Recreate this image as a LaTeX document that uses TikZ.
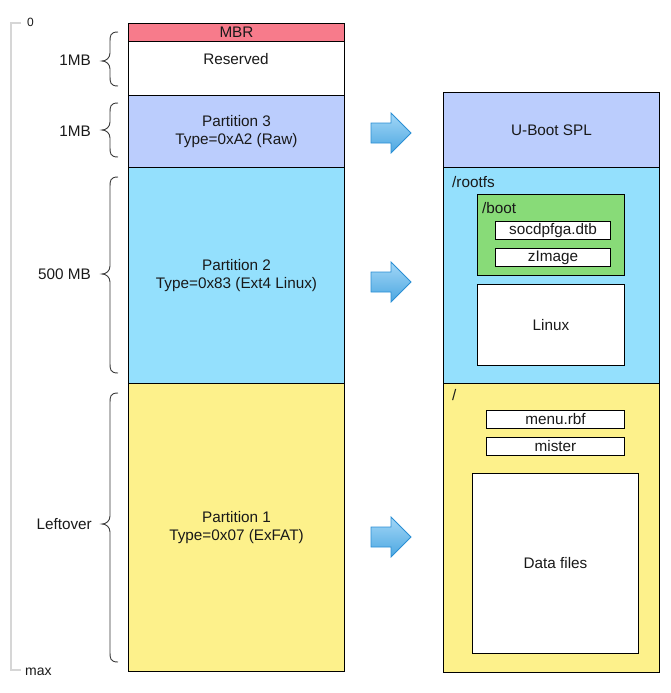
\documentclass[tikz,border=0pt]{standalone}
\usepackage{fontspec}
\setmainfont{Liberation Sans}
\definecolor{mbrc}{HTML}{F77B8B}
\definecolor{p3c}{HTML}{BBCDFD}
\definecolor{p2c}{HTML}{94E0FD}
\definecolor{p1c}{HTML}{FDF18B}
\definecolor{bootc}{HTML}{88DB78}
\definecolor{arrtop}{HTML}{A3D7F7}
\definecolor{arrbot}{HTML}{4CA7E1}
\definecolor{arrdraw}{HTML}{2A8FD4}
\definecolor{scalec}{HTML}{D6D6D6}
\definecolor{bracec}{HTML}{3A3A3A}
\newcommand{\curlyb}[3]{% top, tip, bottom
  \draw[bracestyle] (118,#1) .. controls (110,#1) and (110,#1+4) .. (110,#1+10)
    -- (110,#2-8) .. controls (110,#2-3) and (106,#2) .. (102,#2)
    .. controls (106,#2) and (110,#2+3) .. (110,#2+8)
    -- (110,#3-10) .. controls (110,#3-4) and (110,#3) .. (118,#3);}
\begin{document}
\begin{tikzpicture}[x=1pt,y=-1pt,
  every node/.style={font=\fontsize{15.3}{18.3}\selectfont, text=black!90},
  blk/.style={draw=black, line width=1pt, anchor=north west, inner sep=0pt, align=center},
  txt/.style={inner sep=0pt, align=center},
  bracestyle/.style={draw=bracec, line width=0.9pt},
  blockarrow/.style={draw=arrdraw, line width=0.8pt, top color=arrtop, bottom color=arrbot, line join=miter}]
\useasboundingbox (0,0) rectangle (670,693);
% scale
\draw[scalec, line width=1.5pt] (21,23) -- (11,23) -- (11,670) -- (21,670);
\node[txt, anchor=west] (zero) at (27,22) {\fontsize{12}{14}\selectfont 0};
\node[txt, anchor=west] (max) at (25,672) {\fontsize{14}{16}\selectfont max};
% left column
\node[blk, fill=p1c, minimum width=216pt, minimum height=288pt] (p1) at (128,383) {Partition 1\\Type=0x07 (ExFAT)};
\node[blk, fill=p2c, minimum width=216pt, minimum height=216pt] (p2) at (128,167) {Partition 2\\Type=0x83 (Ext4 Linux)};
\node[blk, fill=p3c, minimum width=216pt, minimum height=72pt] (p3) at (128,95) {Partition 3\\Type=0xA2 (Raw)};
\node[blk, fill=white, minimum width=216pt, minimum height=54pt] (res) at (128,41) {};
\node[txt] (restxt) at (236,59) {Reserved};
\node[blk, fill=mbrc, minimum width=216pt, minimum height=18pt] (mbr) at (128,23) {MBR};
% braces
\curlyb{32}{61}{86}
\curlyb{103}{130}{157}
\curlyb{177}{274}{373}
\curlyb{393}{524}{662}
\node[txt, anchor=east] (l1) at (91,60) {1MB};
\node[txt, anchor=east] (l2) at (91,131) {1MB};
\node[txt, anchor=east] (l3) at (91,274) {500 MB};
\node[txt, anchor=east] (l4) at (92,524) {Leftover};
% arrows
\foreach \c in {133,282,537}
  \draw[blockarrow] (371,\c-10) -- (391,\c-10) -- (391,\c-20) -- (411,\c) -- (391,\c+20) -- (391,\c+10) -- (371,\c+10) -- cycle;
% right column
\node[blk, fill=p3c, minimum width=216pt, minimum height=75pt] (uboot) at (443,92) {U-Boot SPL};
\node[blk, fill=p2c, minimum width=216pt, minimum height=216pt] (rootfs) at (443,167) {};
\node[txt, anchor=west] (rootfstxt) at (452,182) {/rootfs};
\node[blk, fill=bootc, minimum width=147pt, minimum height=81pt] (boot) at (477,194) {};
\node[txt, anchor=west] (boottxt) at (482,208) {/boot};
\node[blk, fill=white, minimum width=115pt, minimum height=18pt] (dtb) at (495,221) {socdpfga.dtb};
\node[blk, fill=white, minimum width=115pt, minimum height=18pt] (zimg) at (495,248) {zImage};
\node[blk, fill=white, minimum width=147pt, minimum height=81pt] (linux) at (477,284) {Linux};
\node[blk, fill=p1c, minimum width=216pt, minimum height=289pt] (root) at (443,383) {};
\node[txt, anchor=west] (roottxt) at (452,395) {/};
\node[blk, fill=white, minimum width=138pt, minimum height=18pt] (menu) at (486,410) {menu.rbf};
\node[blk, fill=white, minimum width=138pt, minimum height=18pt] (mister) at (486,437) {mister};
\node[blk, fill=white, minimum width=166pt, minimum height=180pt] (data) at (472,473) {Data files};
\end{tikzpicture}
\end{document}
